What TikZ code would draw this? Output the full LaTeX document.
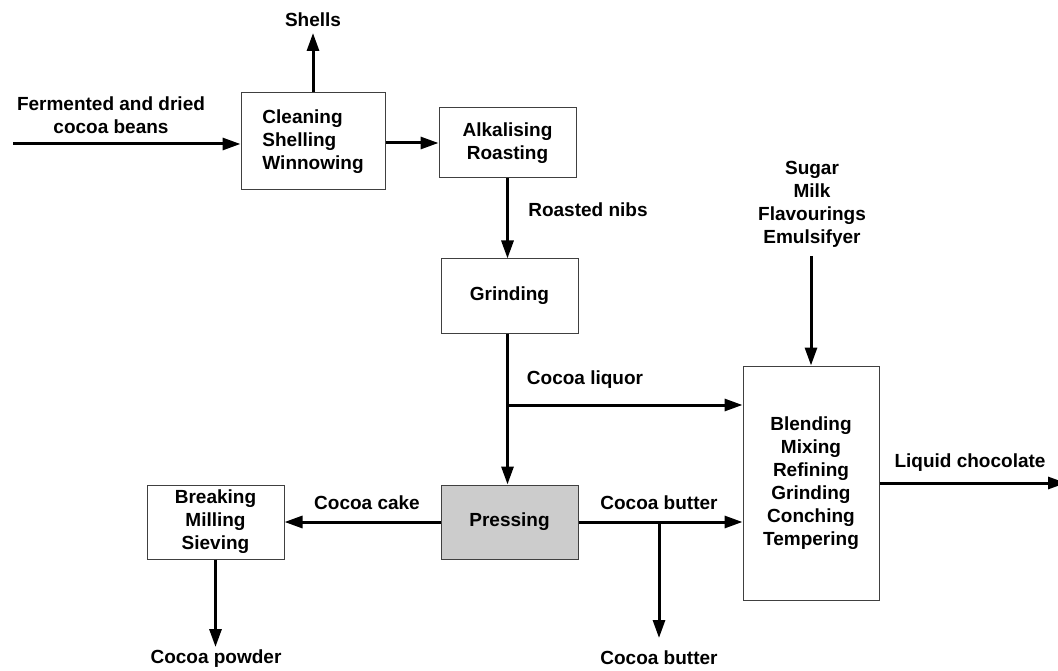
\documentclass[tikz,border=0pt]{standalone}
\usepackage{fontspec}
\setmainfont{Liberation Sans}
\usetikzlibrary{arrows.meta}
\tikzset{
  box/.style={draw=black!75, line width=1pt, fill=white, inner sep=0pt, font=\bfseries\fontsize{19}{23}\selectfont, align=center},
  lbl/.style={inner sep=0pt, font=\bfseries\fontsize{19}{23}\selectfont, align=center},
  flow/.style={line width=3pt, -{Triangle[length=18pt,width=12pt]}},
  line/.style={line width=3pt}
}
\begin{document}
\begin{tikzpicture}[x=1pt,y=-1pt]
\useasboundingbox (0,0) rectangle (1058,671);
% boxes
\node[box, minimum width=144pt, minimum height=97pt, align=left] (clean) at (313,141.5) {Cleaning\\Shelling\\Winnowing};
\node[box, minimum width=137pt, minimum height=70pt] (alk) at (507.5,143) {Alkalising\\Roasting};
\node[box, minimum width=137pt, minimum height=74pt] (grind) at (509.5,296) {Grinding};
\node[box, minimum width=137pt, minimum height=74pt, fill=black!20] (press) at (509.5,522) {Pressing};
\node[box, minimum width=137pt, minimum height=74pt] (break) at (215.5,522) {Breaking\\Milling\\Sieving};
\node[box, minimum width=136pt, minimum height=234pt] (blend) at (811,483) {Blending\\Mixing\\Refining\\Grinding\\Conching\\Tempering};
% labels
\node[lbl] (ferm) at (111,115) {Fermented and dried\\cocoa beans};
\node[lbl] (shells) at (313,20) {Shells};
\node[lbl] (nibs) at (588,210) {Roasted nibs};
\node[lbl] (liqlbl) at (585,380) {Cocoa liquor};
\node[lbl] (sugar) at (812,204) {Sugar\\Milk\\Flavourings\\Emulsifyer};
\node[lbl] (cake) at (367,503) {Cocoa cake};
\node[lbl] (butter1) at (659,503) {Cocoa butter};
\node[lbl] (butter2) at (659,658) {Cocoa butter};
\node[lbl] (powder) at (216,659) {Cocoa powder};
\node[lbl] (liqchoc) at (970,463) {Liquid chocolate};
% coordinates
\coordinate (inL) at (13,144);
\coordinate (shellsEnd) at (313,33);
\coordinate (liq) at (507.5,405);
\coordinate (sugarStart) at (811,256);
\coordinate (butterSplit) at (659,522);
\coordinate (butterEnd) at (659,638);
\coordinate (powderEnd) at (215.5,647);
\coordinate (chocEnd) at (1066,483);
% connectors
\draw[flow] (inL) -- (inL -| clean.west);
\draw[flow] (clean.north) -- (shellsEnd);
\draw[flow] (clean.east |- alk.west) -- (alk.west);
\draw[flow] (alk.south) -- (alk.south |- grind.north);
\draw[flow] (alk.south |- grind.south) -- (alk.south |- press.north);
\draw[flow] (liq) -- (liq -| blend.west);
\draw[flow] (sugarStart) -- (sugarStart |- blend.north);
\draw[flow] (press.west) -- (break.east);
\draw[flow] (press.east) -- (press.east -| blend.west);
\draw[flow] (butterSplit) -- (butterEnd);
\draw[flow] (break.south) -- (break.south |- powderEnd);
\draw[flow] (blend.east) -- (chocEnd);
\end{tikzpicture}
\end{document}
